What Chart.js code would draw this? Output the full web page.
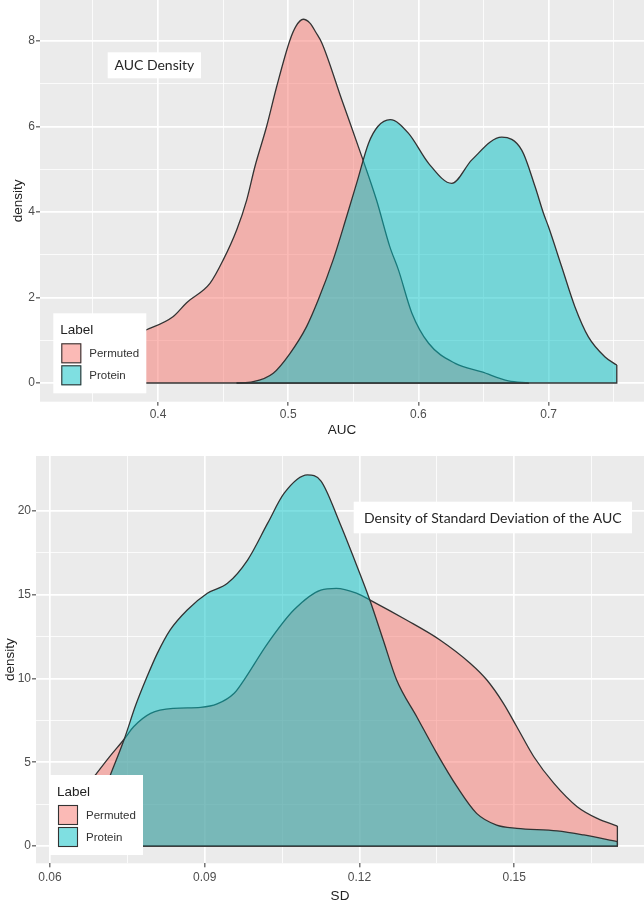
<!DOCTYPE html>
<html>
<head>
<meta charset="utf-8">
<script src="https://cdn.jsdelivr.net/npm/chart.js@4.4.0/dist/chart.umd.min.js"></script>
<style>
  html, body { margin: 0; padding: 0; background: #ffffff; }
  #wrap { position: relative; width: 644px; height: 910px; overflow: hidden; }
  canvas { position: absolute; left: 0; }
</style>
</head>
<body>
<div id="wrap">
  <canvas id="c1" width="644" height="445" style="top:0px"></canvas>
  <canvas id="c2" width="644" height="470" style="top:440px"></canvas>
</div>
<script>
// ---------------- DATA ----------------
const seriesLabels = ['Permuted', 'Protein'];

// Top panel: AUC density
const aucPermutedX = [0.332, 0.350, 0.370, 0.3908, 0.4115, 0.4220, 0.4399, 0.4501, 0.4604, 0.4681, 0.4744, 0.4834, 0.4911, 0.5013, 0.5060, 0.5115, 0.5167, 0.5213, 0.5259, 0.5412, 0.5566, 0.5678, 0.5780, 0.5847, 0.5949, 0.6078, 0.6282, 0.6487, 0.6691, 0.6845];
const aucPermutedY = [0.45, 0.70, 0.98, 1.24, 1.55, 1.88, 2.33, 2.88, 3.58, 4.28, 5.06, 6.00, 6.93, 8.02, 8.35, 8.51, 8.42, 8.20, 7.95, 6.62, 5.29, 4.28, 3.19, 2.64, 1.64, 0.93, 0.46, 0.26, 0.05, 0.005];
const aucProteinX = [0.4604, 0.4731, 0.4885, 0.5013, 0.5141, 0.5230, 0.5345, 0.5448, 0.5525, 0.5617, 0.5688, 0.5783, 0.5924, 0.6078, 0.6256, 0.6410, 0.6640, 0.6793, 0.6896, 0.6960, 0.6998, 0.7100, 0.7202, 0.7305, 0.7433, 0.7523];
const aucProteinY = [0.00, 0.03, 0.23, 0.69, 1.32, 1.94, 2.88, 3.89, 4.67, 5.61, 6.00, 6.16, 5.84, 5.14, 4.67, 5.22, 5.75, 5.45, 4.59, 3.97, 3.66, 2.72, 1.78, 1.08, 0.61, 0.42];

// Bottom panel: SD density
const sdPermutedX = [0.0627, 0.0660, 0.0688, 0.0716, 0.0744, 0.0762, 0.0795, 0.0840, 0.0892, 0.0924, 0.0957, 0.0976, 0.1022, 0.1073, 0.1125, 0.1155, 0.1194, 0.1226, 0.1291, 0.1356, 0.1415, 0.1447, 0.1479, 0.1505, 0.1538, 0.1577, 0.1622, 0.1661, 0.1700];
const sdPermutedY = [2.00, 3.10, 4.24, 5.35, 6.39, 7.12, 7.92, 8.22, 8.28, 8.48, 9.12, 9.91, 12.10, 14.10, 15.28, 15.38, 15.09, 14.59, 13.49, 12.30, 10.90, 9.91, 8.52, 7.12, 5.33, 3.74, 2.35, 1.65, 1.19];
const sdProteinX = [0.0685, 0.0700, 0.0717, 0.0744, 0.0766, 0.0788, 0.0808, 0.0833, 0.0866, 0.0905, 0.0944, 0.0983, 0.1022, 0.1054, 0.1099, 0.1125, 0.1162, 0.1188, 0.1220, 0.1246, 0.1272, 0.1311, 0.1350, 0.1389, 0.1427, 0.1466, 0.1505, 0.1583, 0.1635, 0.1700];
const sdProteinY = [1.80, 2.90, 4.24, 6.39, 8.40, 10.10, 11.50, 12.90, 14.09, 15.09, 15.68, 17.07, 19.27, 21.06, 22.15, 21.80, 19.27, 17.27, 14.69, 12.30, 9.91, 7.72, 5.53, 3.54, 1.95, 1.25, 1.06, 0.91, 0.66, 0.26];

// Ticks
const aucXMajor = [0.4, 0.5, 0.6, 0.7];
const aucXMinor = [0.35, 0.45, 0.55, 0.65, 0.75];
const aucYMajor = [0, 2, 4, 6, 8];
const aucYMinor = [1, 3, 5, 7];
const sdXMajor = [0.06, 0.09, 0.12, 0.15];
const sdXMinor = [0.075, 0.105, 0.135, 0.165];
const sdYMajor = [0, 5, 10, 15, 20];
const sdYMinor = [2.5, 7.5, 12.5, 17.5];

const titles = { top: 'AUC Density', bottom: 'Density of Standard Deviation of the AUC' };
const axisTitles = { topX: 'AUC', bottomX: 'SD', y: 'density', legend: 'Label' };

// ---------------- STYLE ----------------
const FILL = ['rgba(248,118,109,0.5)', 'rgba(0,191,196,0.5)'];
const LINE = '#333333';
const TICKFONT = { family: 'Liberation Sans, Arial, sans-serif', size: 12 };
const TITLEFONT = { family: 'Liberation Sans, Arial, sans-serif', size: 13.5 };

function pts(xs, ys) { return xs.map((x, i) => ({ x: x, y: ys[i] })); }
function edges(xs, ys) {
  const n = xs.length - 1;
  return [{ x: xs[0], y: ys[0] }, { x: xs[0], y: 0 }, { x: xs[n], y: 0 }, { x: xs[n], y: ys[n] }];
}
function areaDs(xs, ys, idx, order) {
  return { data: pts(xs, ys), fill: 'origin', backgroundColor: FILL[idx], borderColor: LINE,
    borderWidth: 1.3, pointRadius: 0, cubicInterpolationMode: 'monotone', order: order };
}
function edgeDs(xs, ys, order) {
  return { data: edges(xs, ys), fill: false, borderColor: LINE, borderWidth: 1.3, pointRadius: 0,
    tension: 0, order: order };
}
function noPad(s) { s.paddingTop = 0; s.paddingBottom = 0; s.paddingLeft = 0; s.paddingRight = 0; }

const panelBg = {
  id: 'panelBg',
  beforeDraw(chart) {
    const { ctx, chartArea: a } = chart;
    ctx.save();
    ctx.fillStyle = '#EBEBEB';
    ctx.fillRect(a.left, a.top, a.right - a.left, a.bottom - a.top);
    ctx.restore();
  }
};

const overlay = {
  id: 'overlay',
  afterDraw(chart, args, opts) {
    const ctx = chart.ctx;
    ctx.save();
    // annotation box
    const an = opts.annot;
    ctx.fillStyle = '#ffffff';
    ctx.fillRect(an.x, an.y, an.w, an.h);
    ctx.fillStyle = '#262626';
    ctx.font = '14px Lato, "Open Sans", sans-serif';
    ctx.textAlign = 'center';
    ctx.textBaseline = 'middle';
    ctx.fillText(an.text, an.x + an.w / 2, an.y + an.h / 2 + 0.5);
    // legend
    const lg = opts.legend;
    ctx.fillStyle = '#ffffff';
    ctx.fillRect(lg.x, lg.y, 93, 80);
    ctx.textAlign = 'left';
    ctx.fillStyle = '#222222';
    ctx.font = '13.5px "Liberation Sans", Arial, sans-serif';
    ctx.fillText(axisTitles.legend, lg.x + 7, lg.y + 17);
    ctx.font = '11.5px "Liberation Sans", Arial, sans-serif';
    for (let i = 0; i < seriesLabels.length; i++) {
      const ky = lg.y + 30 + i * 22;
      ctx.fillStyle = '#ffffff';
      ctx.fillRect(lg.x + 8, ky, 20, 20);
      ctx.fillStyle = FILL[i];
      ctx.fillRect(lg.x + 8, ky, 20, 20);
      ctx.strokeStyle = LINE;
      ctx.lineWidth = 1.1;
      ctx.strokeRect(lg.x + 8.5, ky + 0.5, 19, 19);
      ctx.fillStyle = '#333333';
      ctx.fillText(seriesLabels[i], lg.x + 36, ky + 10.5);
    }
    ctx.restore();
  }
};

function makeScales(cfg) {
  const isMajX = v => cfg.xMajor.some(m => Math.abs(m - v) < 1e-9);
  const isMajY = v => cfg.yMajor.some(m => Math.abs(m - v) < 1e-9);
  return {
    x: {
      type: 'linear', min: cfg.xMin, max: cfg.xMax,
      afterBuildTicks: s => { s.ticks = cfg.xMajor.concat(cfg.xMinor).sort((a, b) => a - b).map(v => ({ value: v })); },
      afterFit: s => { s.height = cfg.xHeight; noPad(s); },
      ticks: { autoSkip: false, maxRotation: 0, padding: cfg.xPad, color: '#4D4D4D', font: TICKFONT,
        callback: v => isMajX(v) ? String(v) : '' },
      grid: { color: '#ffffff', lineWidth: c => isMajX(c.tick.value) ? 1.7 : 0.8,
        tickColor: c => isMajX(c.tick.value) ? '#333333' : 'rgba(0,0,0,0)', tickLength: 4, tickWidth: 1 },
      border: { display: false },
      title: { display: true, text: cfg.xTitle, color: '#222222', font: TITLEFONT, padding: { top: 0, bottom: cfg.xTitlePad } }
    },
    y: {
      type: 'linear', min: cfg.yMin, max: cfg.yMax,
      afterBuildTicks: s => { s.ticks = cfg.yMajor.concat(cfg.yMinor).sort((a, b) => a - b).map(v => ({ value: v })); },
      afterFit: s => { s.width = cfg.yWidth; noPad(s); },
      ticks: { autoSkip: false, padding: 1, color: '#4D4D4D', font: TICKFONT,
        callback: v => isMajY(v) ? String(v) : '' },
      grid: { color: '#ffffff', lineWidth: c => isMajY(c.tick.value) ? 1.7 : 0.8,
        tickColor: c => isMajY(c.tick.value) ? '#333333' : 'rgba(0,0,0,0)', tickLength: 4, tickWidth: 1 },
      border: { display: false },
      title: { display: true, text: axisTitles.y, color: '#222222', font: TITLEFONT, padding: { top: cfg.yTitlePad, bottom: 0 } }
    }
  };
}

function makeChart(id, cfg) {
  return new Chart(document.getElementById(id), {
    type: 'line',
    data: { datasets: [
      areaDs(cfg.permX, cfg.permY, 0, 3),
      edgeDs(cfg.permX, cfg.permY, 2),
      areaDs(cfg.protX, cfg.protY, 1, 1),
      edgeDs(cfg.protX, cfg.protY, 0)
    ] },
    options: {
      responsive: false, animation: false, devicePixelRatio: 1, events: [],
      layout: { autoPadding: false, padding: { left: 0, right: 0, top: cfg.topPad, bottom: 0 } },
      plugins: { legend: { display: false }, tooltip: { enabled: false },
        overlay: { annot: cfg.annot, legend: cfg.legend } },
      scales: makeScales(cfg)
    },
    plugins: [panelBg, overlay]
  });
}

makeChart('c1', {
  permX: aucPermutedX, permY: aucPermutedY, protX: aucProteinX, protY: aucProteinY,
  xMajor: aucXMajor, xMinor: aucXMinor, yMajor: aucYMajor, yMinor: aucYMinor,
  xMin: 0.3094, xMax: 0.7732, yMin: -0.437, yMax: 8.96,
  xHeight: 43.3, yWidth: 40, xPad: 2, xTitlePad: 7, yTitlePad: 10, topPad: 0,
  xTitle: axisTitles.topX,
  annot: { text: titles.top, x: 107.7, y: 52.3, w: 93.3, h: 26 },
  legend: { x: 53.3, y: 313.3 }
});

makeChart('c2', {
  permX: sdPermutedX, permY: sdPermutedY, protX: sdProteinX, protY: sdProteinY,
  xMajor: sdXMajor, xMinor: sdXMinor, yMajor: sdYMajor, yMinor: sdYMinor,
  xMin: 0.05728, xMax: 0.17516, yMin: -1.03, yMax: 23.28,
  xHeight: 46.7, yWidth: 36, xPad: 3.5, xTitlePad: 6, yTitlePad: 2, topPad: 16,
  xTitle: axisTitles.bottomX,
  annot: { text: titles.bottom, x: 353.7, y: 61.7, w: 278.3, h: 31.6 },
  legend: { x: 50, y: 335 }
});
</script>
</body>
</html>
